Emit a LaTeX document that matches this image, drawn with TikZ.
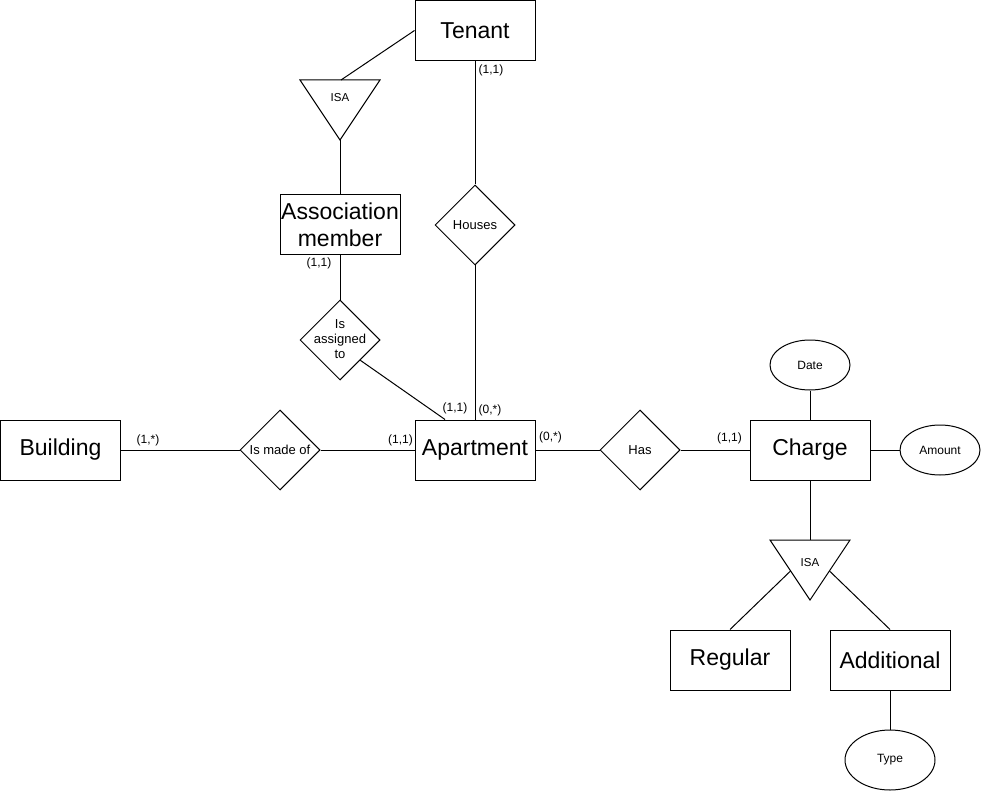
\documentclass[tikz,border=0pt]{standalone}
\usepackage{fontspec}
\setmainfont{Liberation Sans}
\usetikzlibrary{shapes.geometric}
\begin{document}
\begin{tikzpicture}[x=1pt,y=-1pt,line width=1pt,
  entity/.style={draw,minimum width=120pt,minimum height=60pt,inner sep=0pt,
    font=\fontsize{23}{27}\selectfont,align=center},
  relation/.style={draw,diamond,aspect=1,minimum width=80pt,minimum height=80pt,
    inner sep=0pt,font=\fontsize{13}{15}\selectfont},
  attribute/.style={draw,ellipse,inner sep=0pt,font=\fontsize{12}{14}\selectfont},
  card/.style={inner sep=0pt,font=\fontsize{12}{14}\selectfont},
  isalabel/.style={inner sep=0pt,font=\fontsize{11.5}{13}\selectfont}]

\fill[white] (0,0) rectangle (981,791);
\useasboundingbox (0,0) rectangle (981,791);

% entities
\node[entity] (tenant)     at (475,30.5) {Tenant};
\node[entity] (assoc)      at (340,225)  {Association\\member};
\node[entity] (apt)        at (475,450)  {Apartment};
\node[entity] (building)   at (60.5,450) {Building};
\node[entity] (charge)     at (810,450)  {Charge};
\node[entity] (regular)    at (730,660)  {Regular};
\node[entity] (additional) at (890,660)  {Additional};

% relationships
\node[relation] (houses) at (475,225) {\makebox[0pt]{Houses}};
\node[relation] (assign) at (340,340) {\makebox[0pt]{\begin{tabular}{@{}c@{}}Is\\assigned\\to\end{tabular}}};
\node[relation] (madeof) at (280,450) {\makebox[0pt]{Is made of}};
\node[relation] (has)    at (640,450) {\makebox[0pt]{Has}};

% attributes
\node[attribute,minimum width=80pt,minimum height=50pt] (date)   at (810,365) {Date};
\node[attribute,minimum width=80pt,minimum height=50pt] (amount) at (940,450) {Amount};
\node[attribute,minimum width=90pt,minimum height=60pt] (type)   at (890,760) {Type};

% ISA triangle below Tenant
\coordinate (isaAl)    at (300,80);
\coordinate (isaAr)    at (380,80);
\coordinate (isaAtop)  at (341,80);
\coordinate (isaAapex) at (340,140);
\draw (isaAl) -- (isaAr) -- (isaAapex) -- cycle;
\node[isalabel] (isaAtext) at (340,98) {ISA};

% ISA triangle below Charge
\coordinate (isaBl)     at (770,540);
\coordinate (isaBr)     at (850,540);
\coordinate (isaBtop)   at (810,540);
\coordinate (isaBapex)  at (810,600);
\coordinate (isaBleft)  at (790.5,571);
\coordinate (isaBright) at (829.5,571);
\draw (isaBl) -- (isaBr) -- (isaBapex) -- cycle;
\node[isalabel] (isaBtext) at (810,563) {ISA};

% connectors
\draw (tenant.west) -- (isaAtop);
\draw (isaAapex) -- (assoc.north);
\draw (tenant.south) -- (houses.north);
\draw (houses.south) -- (apt.north);
\draw (assoc.south) -- (assign.north);
\draw (assign.south east) -- ([xshift=-30pt]apt.north);
\draw (building.east) -- (madeof.west);
\draw (madeof.east) -- (apt.west);
\draw (apt.east) -- (has.west);
\draw (has.east) -- (charge.west);
\draw (charge.north) -- (date.south);
\draw (charge.east) -- (amount.west);
\draw (charge.south) -- (isaBtop);
\draw (isaBleft) -- (regular.north);
\draw (isaBright) -- (additional.north);
\draw (additional.south) -- (type.north);

% cardinalities
\node[card] (c1) at (491,70.5) {(1,1)};
\node[card] (c2) at (319,263)  {(1,1)};
\node[card] (c3) at (455,408)  {(1,1)};
\node[card] (c4) at (490,410)  {(0,*)};
\node[card] (c5) at (400.5,440) {(1,1)};
\node[card] (c6) at (148,440)  {(1,*)};
\node[card] (c7) at (550.5,437) {(0,*)};
\node[card] (c8) at (729.5,438) {(1,1)};
\end{tikzpicture}
\end{document}
